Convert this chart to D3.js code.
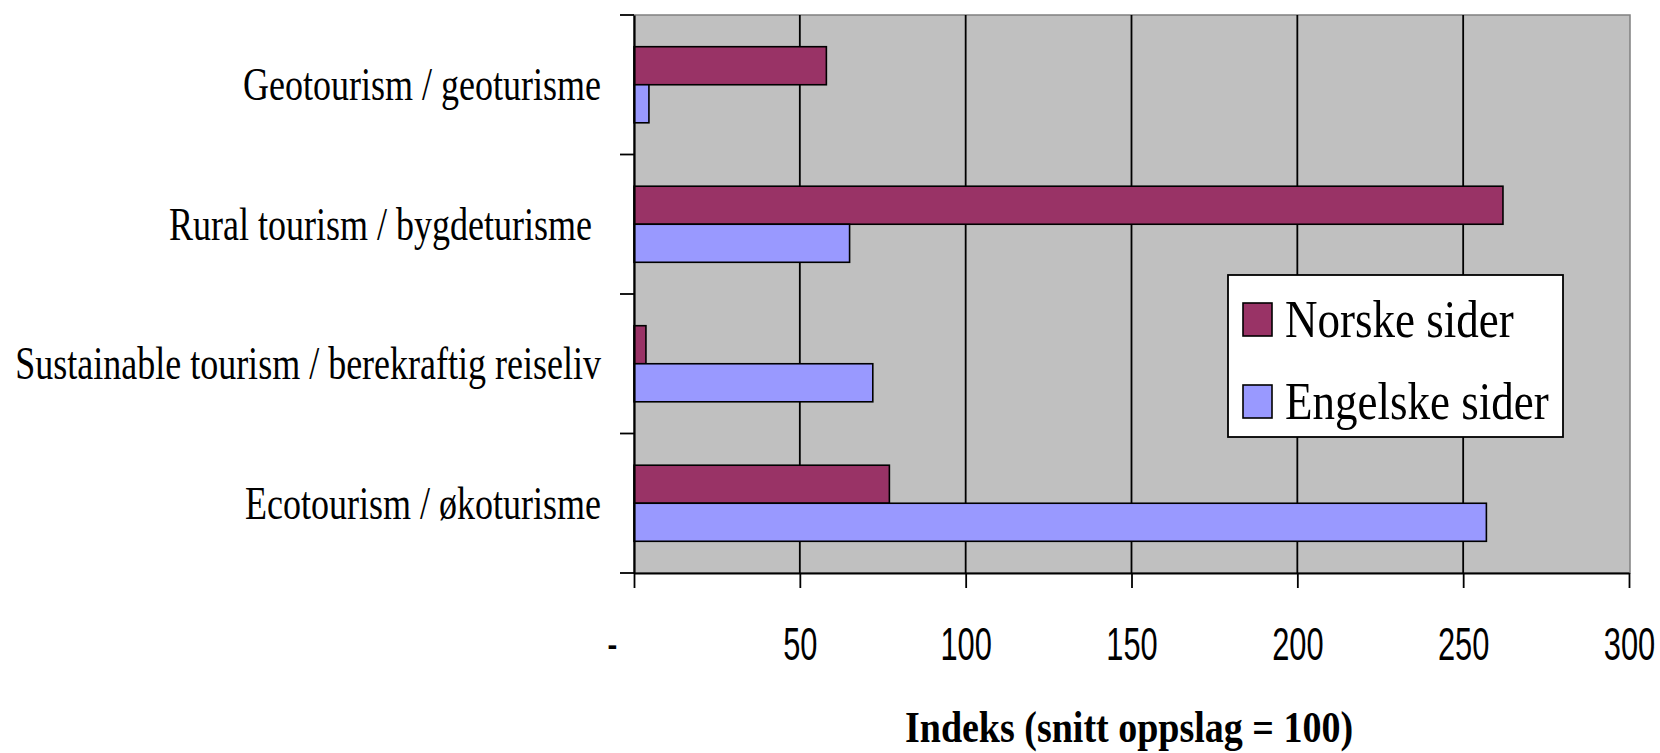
<!DOCTYPE html>
<html>
<head>
<meta charset="utf-8">
<script src="https://cdn.jsdelivr.net/npm/d3@7"></script>
<style>
  html, body { margin: 0; padding: 0; background: #ffffff; }
  svg { display: block; }
</style>
</head>
<body>
<svg id="chart" width="1660" height="753"></svg>
<script>
// ---- data ----
const categories = [
  "Geotourism / geoturisme",
  "Rural tourism / bygdeturisme ",
  "Sustainable tourism / berekraftig reiseliv",
  "Ecotourism / økoturisme"
];
const seriesNames = ["Norske sider", "Engelske sider"];
const norske = [58, 262, 3.6, 77];
const engelske = [4.5, 65, 72, 257];
const xTicks = [0, 50, 100, 150, 200, 250, 300];
const xTitle = "Indeks (snitt oppslag = 100)";

// ---- layout ----
const colors = ["#993366", "#9999ff"];
const plot = { left: 634, right: 1629, top: 15, bottom: 573 };
const svg = d3.select("#chart");

const x = d3.scaleLinear().domain([0, 300]).range([plot.left, plot.right]);
const y = d3.scaleBand().domain(categories).range([plot.top, plot.bottom]).padding(0);
const bw = y.bandwidth();
const barH = bw * 0.2727;
const barOff = (bw - 2 * barH) / 2;

// plot background
svg.append("rect")
  .attr("x", plot.left).attr("y", plot.top)
  .attr("width", plot.right + 1 - plot.left).attr("height", plot.bottom - plot.top)
  .attr("fill", "#c0c0c0").attr("stroke", "#808080").attr("stroke-width", 1.5);

// gridlines
svg.append("g").selectAll("line")
  .data(xTicks.filter(d => d > 0 && d < 300))
  .join("line")
  .attr("x1", d => x(d)).attr("x2", d => x(d))
  .attr("y1", plot.top).attr("y2", plot.bottom)
  .attr("stroke", "#000").attr("stroke-width", 1.8);

// bars
const series = [norske, engelske];
series.forEach((vals, si) => {
  svg.append("g").selectAll("rect")
    .data(categories.map((c, i) => ({ c, v: vals[i] })))
    .join("rect")
    .attr("x", x(0))
    .attr("y", d => y(d.c) + barOff + si * barH)
    .attr("width", d => x(d.v) - x(0))
    .attr("height", barH)
    .attr("fill", colors[si])
    .attr("stroke", "#000")
    .attr("stroke-width", 1.6);
});

// x axis
const xAxis = svg.append("g")
  .attr("transform", `translate(0,${plot.bottom})`)
  .call(d3.axisBottom(x).tickValues(xTicks).tickSize(15).tickSizeOuter(0)
    .tickFormat(d => d === 0 ? "-" : d));
xAxis.select(".domain").attr("stroke", "#000").attr("stroke-width", 2.2);
xAxis.selectAll(".tick line").attr("stroke", "#000").attr("stroke-width", 1.8);
xAxis.selectAll(".tick text")
  .attr("font-family", "'Liberation Sans', Arial, sans-serif")
  .attr("font-size", 46)
  .attr("fill", "#000")
  .attr("y", 87).attr("dy", null)
  .attr("transform", d => d === 0 ? "translate(-22,0) scale(0.67,1)" : "scale(0.67,1)");

// y axis
const yAxis = svg.append("g")
  .attr("transform", `translate(${plot.left},0)`)
  .call(d3.axisLeft(y).tickSize(0).tickSizeOuter(0));
yAxis.select(".domain").attr("stroke", "#000").attr("stroke-width", 2.2);
yAxis.selectAll(".tick text")
  .attr("font-family", "'Liberation Serif', 'Times New Roman', serif")
  .attr("font-size", 36)
  .attr("fill", "#000")
  .attr("x", -33).attr("y", 12).attr("dy", null)
  .style("white-space", "pre")
  .attr("transform", "scale(1,1.3)");
// band boundary ticks
const bounds = categories.map(c => y(c)).concat([y(categories[categories.length - 1]) + bw]);
svg.append("g").selectAll("line")
  .data(bounds)
  .join("line")
  .attr("x1", plot.left - 14).attr("x2", plot.left)
  .attr("y1", d => d).attr("y2", d => d)
  .attr("stroke", "#000").attr("stroke-width", 1.8);

// x title
svg.append("text")
  .attr("transform", `translate(1129,742) scale(1,1.18)`)
  .attr("text-anchor", "middle")
  .attr("font-family", "'Liberation Serif', 'Times New Roman', serif")
  .attr("font-weight", "bold")
  .attr("font-size", 38)
  .attr("fill", "#000")
  .text(xTitle);

// legend
const lg = svg.append("g");
lg.append("rect")
  .attr("x", 1228).attr("y", 275).attr("width", 335).attr("height", 162)
  .attr("fill", "#fff").attr("stroke", "#000").attr("stroke-width", 1.8);
const items = lg.selectAll("g.item")
  .data(seriesNames)
  .join("g").attr("class", "item")
  .attr("transform", (d, i) => `translate(1243,${303 + i * 82})`);
items.append("rect")
  .attr("width", 29).attr("height", 33)
  .attr("fill", (d, i) => colors[i])
  .attr("stroke", "#000").attr("stroke-width", 1.6);
items.append("text")
  .attr("transform", "translate(42,34) scale(1,1.19)")
  .attr("font-family", "'Liberation Serif', 'Times New Roman', serif")
  .attr("font-size", 45)
  .attr("fill", "#000")
  .text(d => d);
</script>
</body>
</html>
